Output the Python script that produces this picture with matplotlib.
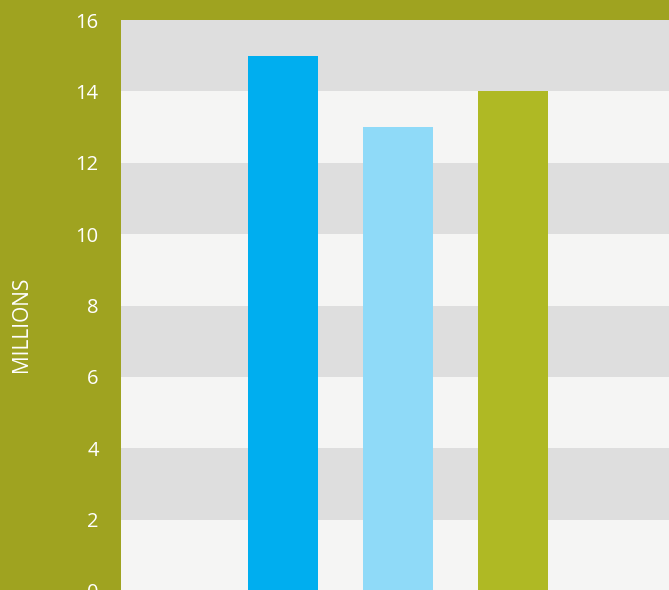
import numpy as np
import matplotlib.pyplot as plt

# data
categories = ['A', 'B', 'C']
values = [15, 13, 14]
bar_colors = ['#00aeef', '#8fdaf8', '#afb924']
y_ticks = [0, 2, 4, 6, 8, 10, 12, 14, 16]

plt.rcParams['font.family'] = ['Open Sans', 'DejaVu Sans']

W, H = 669, 590
fig = plt.figure(figsize=(W / 100, H / 100), dpi=100)
fig.patch.set_facecolor('#9fa320')

# axes placed in pixel terms (bottom slightly below the figure edge)
left, right, top, bottom = 121, 669, 20, 591
ax = fig.add_axes([left / W, 1 - bottom / H, (right - left) / W, (bottom - top) / H])
ax.set_facecolor('#f5f5f4')

# alternating horizontal bands
for i in range(0, 16, 2):
    if (i // 2) % 2 == 1:
        ax.axhspan(i, i + 2, color='#dedede', lw=0, zorder=0)

x = np.arange(len(categories))
ax.bar(x, values, width=0.609, color=bar_colors, zorder=2)

ax.set_xlim(-1.409, 3.357)
ax.set_ylim(0, 16)
ax.set_xticks([])
ax.set_yticks(y_ticks)
ax.set_yticklabels([str(t) for t in y_ticks])
ax.tick_params(axis='y', length=0, pad=16, labelsize=14.5, labelcolor='white')
for s in ax.spines.values():
    s.set_visible(False)

fig.text(22 / W, 1 - 324 / H, 'MILLIONS', rotation=90, color='white',
         fontsize=15, ha='center', va='center')

fig.savefig('out.png', dpi=100, facecolor=fig.get_facecolor())
